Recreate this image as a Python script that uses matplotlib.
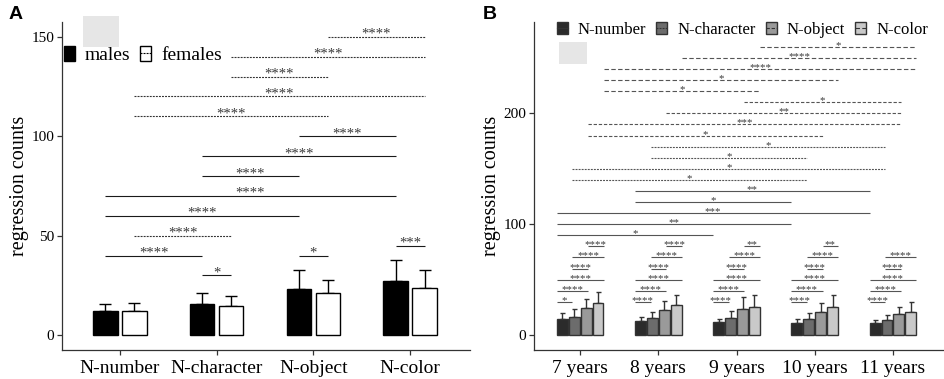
import matplotlib
matplotlib.use("Agg")
import numpy as np
import matplotlib.pyplot as plt
from matplotlib.patches import Patch, Rectangle
from matplotlib.lines import Line2D
from matplotlib.legend_handler import HandlerTuple

plt.rcParams["font.family"] = ["Liberation Serif", "DejaVu Serif"]
plt.rcParams["lines.scale_dashes"] = False

# ---- panel A: sex x task ----
tasks = ["N-number", "N-character", "N-object", "N-color"]
males_mean = [12.0, 15.7, 23.1, 27.3]
males_sd = [3.7, 5.7, 9.6, 10.4]
females_mean = [12.0, 14.6, 21.0, 23.6]
females_sd = [4.2, 5.2, 6.8, 9.2]

# (task i, task j, bracket height, label)
males_cmp = [(0, 1, 40, "****"), (0, 2, 60, "****"), (0, 3, 70, "****"),
             (1, 2, 80, "****"), (1, 3, 90, "****"), (2, 3, 100, "****")]
females_cmp = [(0, 1, 50, "****"), (0, 2, 110, "****"), (0, 3, 120, "****"),
               (1, 2, 130, "****"), (1, 3, 140, "****"), (2, 3, 150, "****")]
# males vs females inside one task
sex_cmp = [(1, 30, "*"), (2, 40, "*"), (3, 45, "***")]

# ---- panel B: age x task ----
ages = ["7 years", "8 years", "9 years", "10 years", "11 years"]
number_mean = [14.4, 12.6, 11.7, 11.1, 10.5]
number_sd = [5.7, 3.7, 3.0, 3.3, 2.8]
character_mean = [16.6, 15.6, 15.4, 14.2, 13.8]
character_sd = [6.6, 4.9, 6.0, 5.9, 4.6]
object_mean = [24.1, 22.6, 23.2, 20.5, 18.7]
object_sd = [8.1, 8.4, 10.8, 8.4, 6.9]
color_mean = [29.2, 26.8, 25.6, 25.0, 21.1]
color_sd = [9.9, 9.3, 10.5, 11.1, 9.0]

# comparisons between tasks inside one age group
within_pairs = [(0, 1), (0, 2), (0, 3), (1, 2), (1, 3), (2, 3)]
within_heights = [30, 40, 50, 60, 70, 80]
within_labels = [
    ["*", "****", "****", "****", "****", "****"],
    ["****", "****", "****", "****", "****", "****"],
    ["****", "****", "****", "****", "****", "**"],
    ["****", "****", "****", "****", "****", "**"],
    ["****", "****", "****", "****", "****", None],
]
# comparisons between ages for one task: (age i, age j, height, label)
number_cmp = [(0, 2, 90, "*"), (0, 3, 100, "**"), (0, 4, 110, "***"),
              (1, 3, 120, "*"), (1, 4, 130, "**")]
character_cmp = [(0, 3, 140, "*"), (0, 4, 150, "*"), (1, 3, 160, "*"), (1, 4, 170, "*")]
object_cmp = [(0, 3, 180, "*"), (0, 4, 190, "***"), (1, 4, 200, "**"), (2, 4, 210, "*")]
color_cmp = [(0, 2, 220, "*"), (0, 3, 230, "*"), (0, 4, 240, "****"),
             (1, 4, 250, "****"), (2, 4, 260, "*")]


def bracket(ax, x1, x2, y, label, color, ls, size):
    ax.plot([x1, x2], [y, y], color=color, lw=0.8, ls=ls, solid_capstyle="butt")
    if label:
        ax.annotate(label, ((x1 + x2) / 2, y), xytext=(0, -0.8),
                    textcoords="offset points", ha="center", va="baseline",
                    fontsize=size, color="#3a3a3a")


def style_axes(ax):
    for s in ["top", "right"]:
        ax.spines[s].set_visible(False)
    for s in ["left", "bottom"]:
        ax.spines[s].set_color("#333333")
        ax.spines[s].set_linewidth(0.9)
    ax.tick_params(color="#333333", length=3.6, width=0.9, pad=2)


fig = plt.figure(figsize=(9.45, 3.79), dpi=100)

# ================= A =================
axA = fig.add_axes([0.0656, 0.0765, 0.4317, 0.8654])
style_axes(axA)
xa = np.arange(len(tasks))
off = 0.15
w = 0.25
axA.errorbar(xa - off, males_mean, yerr=[np.zeros(4), males_sd], fmt="none",
             ecolor="black", elinewidth=1, capsize=4, capthick=1, zorder=1)
axA.errorbar(xa + off, females_mean, yerr=[np.zeros(4), females_sd], fmt="none",
             ecolor="black", elinewidth=1, capsize=4, capthick=1, zorder=1)
axA.bar(xa - off, males_mean, w, color="black", edgecolor="black", lw=1, zorder=2)
axA.bar(xa + off, females_mean, w, color="white", edgecolor="black", lw=1, zorder=2)

dashA = (0, (1.4, 0.8))
for i, j, y, lab in males_cmp:
    bracket(axA, i - off, j - off, y, lab, "#1a1a1a", "-", 10.5)
for i, j, y, lab in females_cmp:
    bracket(axA, i + off, j + off, y, lab, "#333333", dashA, 10.5)
for i, y, lab in sex_cmp:
    bracket(axA, i - off, i + off, y, lab, "#1a1a1a", "-", 10.5)

axA.set_xlim(-0.6, 3.62)
axA.set_ylim(-7.5, 157.4)
axA.set_yticks([0, 50, 100, 150])
axA.set_xticks(xa)
axA.set_xticklabels(tasks, fontsize=14)
axA.tick_params(axis="x", pad=3.5)
axA.tick_params(axis="y", labelsize=11)
axA.set_ylabel("regression counts", fontsize=14.5, labelpad=2)

hm = Patch(facecolor="black", edgecolor="black", lw=1)
hf = (Patch(facecolor="white", edgecolor="black", lw=1),
      Line2D([], [], color="black", lw=0.8, ls=dashA))
axA.legend([hm, hf], ["males", "females"], loc="center left",
           bbox_to_anchor=(0.005, 0.899), ncol=2, frameon=False, fontsize=14,
           handlelength=0.57, handleheight=0.82, handletextpad=0.5,
           columnspacing=0.5, borderpad=0, borderaxespad=0,
           handler_map={tuple: HandlerTuple(ndivide=1)})

# ================= B =================
axB = fig.add_axes([0.5651, 0.0765, 0.4328, 0.8654])
style_axes(axB)
xb = np.arange(len(ages))
means = [number_mean, character_mean, object_mean, color_mean]
sds = [number_sd, character_sd, object_sd, color_sd]
fills = ["#2b2b2b", "#6c6c6c", "#9a9a9a", "#c9c9c9"]
bar_off = [-0.228, -0.076, 0.076, 0.228]
cmp_off = [-0.30, -0.10, 0.10, 0.30]
task_ls = ["-", (0, (1.4, 0.8)), (0, (2.4, 1.3)), (0, (3.2, 1.7))]

for k in range(4):
    axB.errorbar(xb + bar_off[k], means[k], yerr=[np.zeros(5), sds[k]], fmt="none",
                 ecolor="#333333", elinewidth=1, capsize=1.8, capthick=1, zorder=1)
    axB.bar(xb + bar_off[k], means[k], 0.14, color=fills[k], edgecolor="#333333",
            lw=1, zorder=2)

for g in range(len(ages)):
    for (a, b), y, lab in zip(within_pairs, within_heights, within_labels[g]):
        if lab is None:
            continue
        bracket(axB, g + cmp_off[a], g + cmp_off[b], y, lab, "#555555", "-", 7.8)

for k, cmp in enumerate([number_cmp, character_cmp, object_cmp, color_cmp]):
    for i, j, y, lab in cmp:
        bracket(axB, i + cmp_off[k], j + cmp_off[k], y, lab, "#555555", task_ls[k], 7.8)

axB.set_xlim(-0.59, 4.64)
axB.set_ylim(-13.5, 282.4)
axB.set_yticks([0, 100, 200])
axB.set_xticks(xb)
axB.set_xticklabels(ages, fontsize=14)
axB.tick_params(axis="x", pad=3.5)
axB.tick_params(axis="y", labelsize=11)
axB.set_ylabel("regression counts", fontsize=14.5, labelpad=2)

handles = []
for k in range(4):
    handles.append((Patch(facecolor=fills[k], edgecolor="#333333", lw=1),
                    Line2D([], [], color="#333333", lw=0.8, ls=task_ls[k])))
axB.legend(handles, tasks, loc="center left", bbox_to_anchor=(0.056, 0.976),
           ncol=4, frameon=False, fontsize=12, handlelength=0.66,
           handleheight=0.66, handletextpad=0.6, columnspacing=0.6,
           borderpad=0, borderaxespad=0,
           handler_map={tuple: HandlerTuple(ndivide=1)})

# light grey blocks present in the source figure
fig.add_artist(Rectangle((0.0881, 0.8768), 0.0378, 0.0818, transform=fig.transFigure,
                         facecolor="#e6e6e6", edgecolor="none"))
fig.add_artist(Rectangle((0.5918, 0.8303), 0.0296, 0.0596, transform=fig.transFigure,
                         facecolor="#e6e6e6", edgecolor="none"))

fig.text(0.009, 0.985, "A", fontsize=14, fontweight="bold",
         family="Liberation Sans", va="top")
fig.text(0.511, 0.985, "B", fontsize=14, fontweight="bold",
         family="Liberation Sans", va="top")

fig.savefig("out.png", dpi=100)
